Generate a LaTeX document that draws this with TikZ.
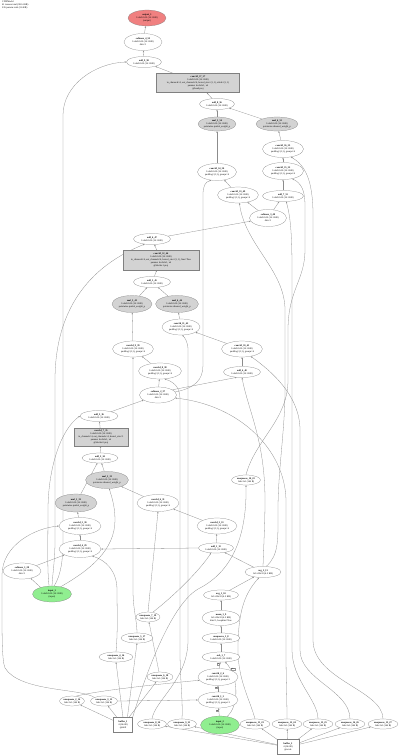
\documentclass[tikz,border=0pt]{standalone}
\usepackage{fontspec}
\setmainfont{Liberation Serif}
\usetikzlibrary{shapes.geometric,arrows.meta}
\pgfdeclarelayer{bg}
\pgfsetlayers{bg,main}
\definecolor{nred}{HTML}{F08080}
\definecolor{ngreen}{HTML}{90EE90}
\definecolor{ngray}{HTML}{D3D3D3}
\definecolor{lcol}{HTML}{8C8C8C}
\definecolor{bcol}{HTML}{808080}
\begin{document}
\begin{tikzpicture}[x=1pt,y=-1pt,
  every node/.style={font=\fontsize{2.4}{2.95}\selectfont, align=center, inner sep=0pt},
  ell/.style={ellipse, draw=bcol, line width=0.22pt, fill=white},
  gell/.style={ell, fill=ngray},
  gbox/.style={rectangle, draw=bcol, line width=0.22pt, fill=ngray, inner sep=0.8pt},
  wbox/.style={rectangle, draw=bcol, line width=0.22pt, fill=white, inner sep=0.8pt},
  sz/.style 2 args={minimum width=#1, minimum height=#2},
  con/.style={draw=lcol, line width=0.28pt, -{Stealth[length=1.8pt,width=1.4pt]}},
  elab/.style={font=\fontsize{1.7}{2}\selectfont, fill=white, draw=black!40, line width=0.15pt, inner sep=0.3pt}
]
\useasboundingbox (0,0) rectangle (400,756);

\node[anchor=north west, align=left] (title) at (2,1) {CNNModel\\61 tensors total (902.4 KB)\\236 params total (3.6 KB)};

% ---- top block
\node[ell, fill=nred, sz={38}{16}] (n1) at (147,18) {\textbf{output\_1}\\1x4x32x32 (16.1 KB)\\(output)};
\node[ell, sz={38}{17}] (n2) at (143,42) {\textbf{softmax\_4\_59}\\1x4x32x32 (16.1 KB)\\dim=1};
\node[ell, sz={35}{11}] (n3) at (144,62) {\textbf{add\_9\_58}\\1x4x32x32 (16.1 KB)};
\node[gbox, sz={83}{19}] (n4) at (198,83) {\textbf{conv2d\_17\_57}\\1x4x32x32 (16.1 KB)\\in\_channels=4, out\_channels=4, kernel\_size=(1, 1), stride=(1, 1)\\params: 4x4x1x1, x4\\@head.proj};
\node[ell, sz={35}{11}] (n5) at (217,104) {\textbf{add\_8\_56}\\1x4x32x32 (16.1 KB)};
\node[gell, sz={38}{14}] (n6) at (217,124) {\textbf{mul\_5\_54}\\1x4x32x32 (16.1 KB)\\pointwise spatial\_weight\_p};
\node[gell, sz={42}{14}] (n7) at (277,124) {\textbf{mul\_6\_55}\\1x4x32x32 (16.1 KB)\\pointwise channel\_weight\_p};
\node[ell, sz={41}{17}] (n8) at (283,149) {\textbf{conv2d\_16\_53}\\1x4x32x32 (16.1 KB)\\padding=(1,1), groups=4};
\node[ell, sz={39}{17}] (n9) at (217,172) {\textbf{conv2d\_14\_50}\\1x4x32x32 (16.1 KB)\\padding=(1,1), groups=4};
\node[ell, sz={41}{17}] (n10) at (283,171) {\textbf{conv2d\_15\_52}\\1x4x32x32 (16.1 KB)\\padding=(1,1), groups=4};
\node[ell, sz={41}{16}] (n11) at (238,195) {\textbf{conv2d\_13\_49}\\1x4x32x32 (16.1 KB)\\padding=(1,1), groups=4};
\node[ell, sz={41}{11}] (n12) at (283,196) {\textbf{add\_7\_51}\\1x4x32x32 (16.1 KB)};
\node[ell, sz={37}{17}] (n13) at (268,218) {\textbf{softmax\_3\_48}\\1x4x32x32 (16.1 KB)\\dim=1};
% ---- middle block
\node[ell, sz={37}{11}] (n14) at (152,239) {\textbf{add\_6\_47}\\1x4x32x32 (16.1 KB)};
\node[gbox, sz={76}{20}] (n15) at (161,260) {\textbf{conv2d\_12\_46}\\1x4x32x32 (16.1 KB)\\in\_channels=4, out\_channels=4, kernel\_size=(1, 1), bias=True\\params: 4x4x1x1, x4\\@blocks.1.proj};
\node[ell, sz={37}{11}] (n16) at (152,282) {\textbf{add\_5\_45}\\1x4x32x32 (16.1 KB)};
\node[gell, sz={40}{17}] (n17) at (132,304) {\textbf{mul\_3\_43}\\1x4x32x32 (16.1 KB)\\pointwise spatial\_weight\_p};
\node[gell, sz={43}{17}] (n18) at (177,304) {\textbf{mul\_4\_44}\\1x4x32x32 (16.1 KB)\\pointwise channel\_weight\_p};
\node[ell, sz={38}{16}] (n19) at (181,327) {\textbf{conv2d\_11\_42}\\1x4x32x32 (16.1 KB)\\padding=(1,1), groups=4};
\node[ell, sz={41}{16}] (n20) at (133,349) {\textbf{conv2d\_9\_39}\\1x4x32x32 (16.1 KB)\\padding=(1,1), groups=4};
\node[ell, sz={43}{16}] (n21) at (160,371) {\textbf{conv2d\_8\_38}\\1x4x32x32 (16.1 KB)\\padding=(1,1), groups=4};
\node[ell, sz={41}{16}] (n22) at (242,349) {\textbf{conv2d\_10\_41}\\1x4x32x32 (16.1 KB)\\padding=(1,1), groups=4};
\node[ell, sz={37}{11}] (n23) at (242,372) {\textbf{add\_4\_40}\\1x4x32x32 (16.1 KB)};
\node[ell, sz={37}{16}] (n24) at (158,395) {\textbf{softmax\_2\_37}\\1x4x32x32 (16.1 KB)\\dim=1};
% ---- bottom block
\node[ell, sz={38}{11}] (n25) at (99,416) {\textbf{add\_3\_36}\\1x4x32x32 (16.1 KB)};
\node[gbox, sz={54}{18}] (n26) at (101,437) {\textbf{conv2d\_7\_35}\\1x4x32x32 (16.1 KB)\\in\_channels=4, out\_channels=4, kernel\_size=1\\params: 4x4x1x1, x4\\@blocks.0.proj};
\node[ell, sz={36}{10}] (n27) at (100,458) {\textbf{add\_2\_34}\\1x4x32x32 (16.1 KB)};
\node[gell, sz={43}{17}] (n28) at (107,480) {\textbf{mul\_2\_33}\\1x4x32x32 (16.1 KB)\\pointwise channel\_weight\_p};
\node[gell, sz={42}{18}] (n29) at (76,503) {\textbf{mul\_1\_32}\\1x4x32x32 (16.1 KB)\\pointwise spatial\_weight\_p};
\node[ell, sz={42}{17}] (n30) at (158,503) {\textbf{conv2d\_6\_31}\\1x4x32x32 (16.1 KB)\\padding=(1,1), groups=4};
\node[ell, sz={42}{17}] (n31) at (80,526) {\textbf{conv2d\_5\_30}\\1x4x32x32 (16.1 KB)\\padding=(1,1), groups=4};
\node[ell, sz={42}{17}] (n32) at (80,549) {\textbf{conv2d\_4\_29}\\1x4x32x32 (16.1 KB)\\padding=(1,1), groups=4};
\node[ell, sz={38}{16}] (n33) at (22,571) {\textbf{softmax\_1\_28}\\1x4x32x32 (16.1 KB)\\dim=1};
\node[ell, fill=ngreen, sz={39}{16}] (n34) at (52,594) {\textbf{input\_1}\\1x4x32x32 (16.1 KB)\\(input)};
% ---- input_2 chain
\node[ell, sz={40}{16}] (n35) at (217,526) {\textbf{conv2d\_3\_13}\\1x4x32x32 (16.1 KB)\\padding=(1,1), groups=4};
\node[ell, sz={35}{10}] (n36) at (216,548) {\textbf{add\_1\_12}\\1x4x32x32 (16.1 KB)};
\node[ell, sz={36}{11}] (n37) at (263,572) {\textbf{avg\_2\_11}\\1x1x32x32 (4.2 KB)};
\node[ell, sz={35}{10}] (n38) at (221,595) {\textbf{avg\_1\_10}\\1x1x32x32 (4.2 KB)};
\node[ell, sz={38}{15}] (n39) at (221,618) {\textbf{mean\_1\_9}\\1x1x32x32 (4.2 KB)\\dim=1, keepdim=True};
\node[ell, sz={38}{10}] (n40) at (221,638) {\textbf{unsqueeze\_1\_8}\\1x4x32x32 (16.1 KB)};
\node[ell, sz={38}{10}] (n41) at (221,657) {\textbf{sub\_1\_7}\\1x4x32x32 (16.1 KB)};
\node[ell, sz={40}{17}] (n42) at (218,677) {\textbf{conv2d\_2\_6}\\1x4x32x32 (16.1 KB)\\padding=(1,1), groups=1};
\node[ell, sz={40}{16}] (n43) at (218,700) {\textbf{conv2d\_1\_5}\\1x4x32x32 (16.1 KB)\\padding=(1,1), groups=1};
\node[ell, fill=ngreen, sz={39}{18}] (n44) at (220,725) {\textbf{input\_2}\\1x4x32x32 (16.1 KB)\\(input)};
% ---- unsqueeze and buffers
\node[ell, sz={29}{10}] (n45) at (246,480) {\textbf{unsqueeze\_10\_22}\\1x4x1x1 (144 B)};
\node[ell, sz={24}{10}] (n46) at (148,617) {\textbf{unsqueeze\_7\_19}\\1x4x1x1 (144 B)};
\node[ell, sz={32}{10}] (n47) at (137,638) {\textbf{unsqueeze\_5\_17}\\1x4x1x1 (144 B)};
\node[ell, sz={34}{10}] (n48) at (116,657) {\textbf{unsqueeze\_4\_16}\\1x4x1x1 (144 B)};
\node[ell, sz={26}{10}] (n49) at (160,677) {\textbf{unsqueeze\_6\_18}\\1x4x1x1 (144 B)};
\node[ell, sz={25}{10}] (n50) at (72,701) {\textbf{unsqueeze\_2\_14}\\1x4x1x1 (144 B)};
\node[ell, sz={27}{10}] (n51) at (104,701) {\textbf{unsqueeze\_3\_15}\\1x4x1x1 (144 B)};
\node[wbox, sz={19}{15}] (n52) at (123,725) {\textbf{buffer\_1}\\4 (144 B)\\@shift};
\node[ell, sz={29}{10}] (n53) at (152,724) {\textbf{unsqueeze\_8\_20}\\1x4x1x1 (144 B)};
\node[ell, sz={29}{10}] (n54) at (182,724) {\textbf{unsqueeze\_9\_21}\\1x4x1x1 (144 B)};
\node[ell, sz={30}{10}] (n55) at (255,724) {\textbf{unsqueeze\_11\_23}\\1x4x1x1 (144 B)};
\node[ell, sz={30}{10}] (n56) at (287,724) {\textbf{unsqueeze\_12\_24}\\1x4x1x1 (144 B)};
\node[ell, sz={30}{10}] (n57) at (318,724) {\textbf{unsqueeze\_13\_25}\\1x4x1x1 (144 B)};
\node[ell, sz={30}{10}] (n58) at (350,724) {\textbf{unsqueeze\_14\_26}\\1x4x1x1 (144 B)};
\node[ell, sz={30}{10}] (n59) at (383,724) {\textbf{unsqueeze\_15\_27}\\1x4x1x1 (144 B)};
\node[wbox, sz={22}{15}] (n60) at (288,747) {\textbf{buffer\_2}\\4 (144 B)\\@scale};

\begin{pgfonlayer}{bg}
\fill[white] (0,0) rectangle (400,756);
% top block
\draw[con] (n2) -- (n1);
\draw[con] (n3) -- (n2);
\draw[con] (n4) -- (n3);
\draw[con] (n5) -- (n4);
\draw[con] (n6) -- (n5);
\draw[con] (n7) -- (n5);
\draw[con] (n9) -- (n6);
\draw[con] (n8) -- (n7);
\draw[con] (n10) -- (n8);
\draw[con] (n12) -- (n10);
\draw[con] (n11) -- (n9);
\draw[con] (n13) -- (n11);
\draw[con] (n13) -- (n12);
\draw[con] (n14) -- (n13);
% middle block
\draw[con] (n15) -- (n14);
\draw[con] (n16) -- (n15);
\draw[con] (n17) -- (n16);
\draw[con] (n18) -- (n16);
\draw[con] (n20) -- (n17);
\draw[con] (n19) -- (n18);
\draw[con] (n21) -- (n20);
\draw[con] (n22) -- (n19);
\draw[con] (n23) -- (n22);
\draw[con] (n24) -- (n21);
\draw[con] (n24.20) -- (n23.225);
\draw[con] (n24.10) .. controls (195,388) and (203,380) .. (203,365) -- (203,195) .. controls (203,186) and (205,182) .. (n9.235);
% bottom block
\draw[con] (n25) -- (n24);
\draw[con] (n26) -- (n25);
\draw[con] (n27) -- (n26);
\draw[con] (n28) -- (n27);
\draw[con] (n29) -- (n27);
\draw[con] (n30) -- (n28);
\draw[con] (n31) -- (n29);
\draw[con] (n32) -- (n31);
\draw[con] (n33) -- (n32);
\draw[con] (n34.150) -- (n33.-40);
% residual curves from input_1
\draw[con] (n34.75) .. controls (61,575) and (63,560) .. (63,540) -- (63,115) .. controls (63,85) and (95,63) .. (n3.west);
\draw[con] (n34.north) .. controls (53,570) and (55,560) .. (55,540) -- (55,380) .. controls (55,320) and (80,270) .. (n14.215);
\draw[con] (n34.110) .. controls (47,570) and (48,540) .. (48,510) .. controls (48,470) and (60,430) .. (n25.west);
\draw[con] (n34.40) .. controls (90,570) and (115,550) .. (115,520) .. controls (115,505) and (111,495) .. (n28.-75);
% input_2 chain
\draw[con] (n35) -- (n30);
\draw[con] (n36) -- (n35);
\draw[con] (n36.west) -- (n32.east);
\draw[con] (n37) -- (n36);
\draw[con] (n38) -- (n37);
\draw[con] (n39) -- (n38);
\draw[con] (n40) -- (n39);
\draw[con] (n41) -- (n40);
\draw[con] (n42) -- (n41) node[elab, pos=0.7, left=0.6pt] (la) {in};
\draw[con] (n43) -- (n42) node[elab, pos=0.7, left=0.6pt] (lb) {in};
\draw[con] (n44) -- (n43) node[elab, pos=0.7, left=0.6pt] (lc) {in};
\draw[con] (n44.50) .. controls (240,705) and (238,675) .. (n41.-50) node[elab, pos=0.85, right=0.5pt] (ld) {other};
% long connectors from unsqueeze nodes
\draw[con] (n59.north) .. controls (383,690) and (313,680) .. (313,640) -- (313,215) .. controls (313,180) and (305,165) .. (n8.-45);
\draw[con] (n58.north) .. controls (350,690) and (300,680) .. (300,650) -- (300,430) .. controls (300,395) and (270,370) .. (n22.-40);
\draw[con] (n57.north) .. controls (318,700) and (292,680) .. (292,650) -- (292,270) .. controls (292,230) and (290,215) .. (n12.-60);
\draw[con] (n56.north) .. controls (287,700) and (286,680) .. (286,650) -- (286,500) .. controls (285,450) and (240,405) .. (n24.-10);
\draw[con] (n55.north) .. controls (250,700) and (238,680) .. (238,650) .. controls (238,615) and (243,595) .. (n37.235);
\draw[con] (n37.north) .. controls (264,540) and (265,520) .. (265,500) .. controls (265,440) and (248,410) .. (n23.south);
\draw[con] (n37.60) .. controls (279,555) and (278,540) .. (278,510) .. controls (278,470) and (285,430) .. (285,390) -- (285,310) .. controls (285,270) and (245,245) .. (n11.-80);
\draw[con] (n45.north) .. controls (255,440) and (288,420) .. (288,380) -- (288,330) .. controls (288,290) and (305,280) .. (305,250) -- (305,205) .. controls (305,190) and (301,183) .. (n10.-40);
\draw[con] (n52.north east) .. controls (150,660) and (175,600) .. (200,588) .. controls (230,572) and (247,540) .. (n45.south);
\draw[con] (n53.north) .. controls (155,700) and (188,680) .. (188,640) -- (188,350) .. controls (188,342) and (185,338) .. (n19.-80);
\draw[con] (n54.north) .. controls (183,700) and (180,680) .. (180,650) -- (180,400) .. controls (180,390) and (177,383) .. (n21.-60);
\draw[con] (n47.north) .. controls (137,620) and (133,610) .. (133,590) -- (n20.south);
\draw[con] (n48.north) .. controls (118,630) and (117,610) .. (117,590) .. controls (117,570) and (105,560) .. (n32.-30);
\draw[con] (n49) -- (n46);
\draw[con] (n46.north) -- (n30.south);
\draw[con] (n46.45) .. controls (175,595) and (200,570) .. (n36.225);
\draw[con] (n50.50) .. controls (100,690) and (170,683) .. (n42.190);
\draw[con] (n51.east) -- (n43.west);
\draw[con] (n51.north west) .. controls (80,688) and (20,692) .. (5,668) .. controls (2,660) and (2,640) .. (2,600) -- (2,575) .. controls (2,545) and (35,528) .. (n31.west);
% buffers
\draw[con] (n52) -- (n50);
\draw[con] (n52) -- (n51);
\draw[con] (n52.north) -- (n48.south);
\draw[con] (n52.60) -- (n47.south);
\draw[con] (n52) -- (n49);
\draw[con] (n60) -- (n53);
\draw[con] (n60) -- (n54);
\draw[con] (n60) -- (n55);
\draw[con] (n60) -- (n56);
\draw[con] (n60) -- (n57);
\draw[con] (n60) -- (n58);
\draw[con] (n60) -- (n59);
\end{pgfonlayer}
\end{tikzpicture}
\end{document}
